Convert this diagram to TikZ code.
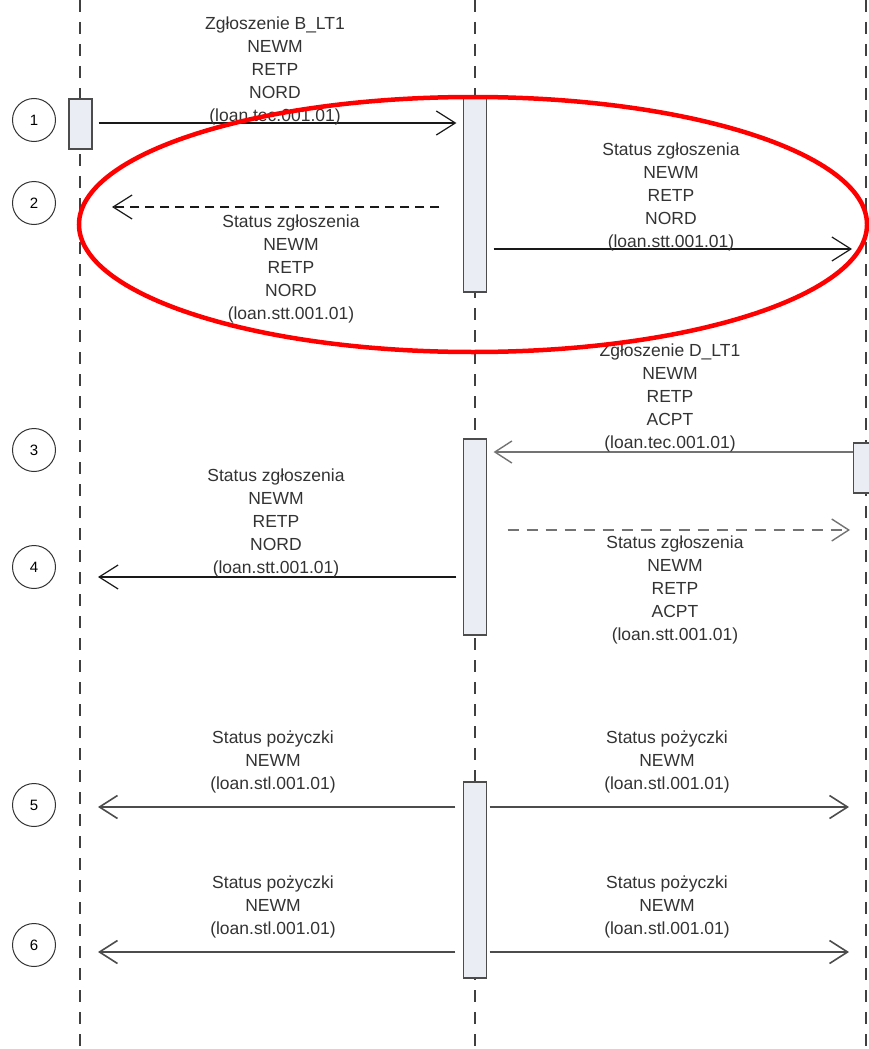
\documentclass[tikz,border=0pt]{standalone}
\usepackage{fontspec}
\setmainfont{Liberation Sans}
\usepackage{tikz}
\usetikzlibrary{arrows.meta}
\usetikzlibrary{positioning}
\tikzset{font={\fontsize{17.5pt}{23pt}\selectfont}}
\definecolor{actfill}{RGB}{234,237,243}
\definecolor{msggray}{RGB}{115,115,115}

\begin{document}
\begin{tikzpicture}[x=1pt,y=-1pt,
  lifeline/.style={draw=black!75,line width=1.3pt,dash pattern=on 12pt off 10pt},
  actbox/.style={draw=black!70,fill=actfill,line width=1.2pt,minimum width=23pt,inner sep=0pt},
  msg/.style={draw=black!90,line width=1.2pt,-{Straight Barb[length=19pt,width=24pt]}},
  dmsg/.style={msg,dash pattern=on 9pt off 6pt},
  gmsg/.style={msg,draw=msggray,line width=2.6pt,-{Straight Barb[length=17pt,width=22pt,line width=1.4pt]}},
  dgmsg/.style={gmsg,dash pattern=on 11pt off 8pt},
  smsg/.style={msg,draw=black!70,line width=2.2pt,-{Straight Barb[length=18pt,width=23pt,line width=1.6pt]}},
  msglabel/.style={align=center,text=black!80,inner sep=0pt},
  num/.style={circle,draw=black!80,line width=1pt,minimum size=43pt,inner sep=0pt,font={\fontsize{15pt}{15pt}\selectfont}}]

\useasboundingbox (0,0) rectangle (869,1049);

%lifelines
\coordinate (Ltop) at (80,0);
\coordinate (Mtop) at (475,0);
\coordinate (Rtop) at (866,0);
\draw[lifeline] (Ltop) -- +(0,1049);
\draw[lifeline] (Mtop) -- +(0,1049);
\draw[lifeline] (Rtop) -- +(0,1049);

%activation boxes
\node[actbox,minimum height=50pt] at (80.5,124) (lbox) {};
\node[actbox,minimum height=194pt] at (475,195) (mid1) {};
\node[actbox,minimum height=196pt] at (475,537) (mid2) {};
\node[actbox,minimum height=196pt] at (475,880) (mid3) {};
\node[actbox,minimum height=50pt] at (865,468) (rbox) {};

%message levels on the lifelines
\coordinate (m1) at (80,123);
\coordinate (m2) at (80,207);
\coordinate (m2r) at (866,249);
\coordinate (m3) at (866,452);
\coordinate (m3r) at (866,530);
\coordinate (m4) at (80,577);
\coordinate (m5) at (80,807);
\coordinate (m5r) at (866,807);
\coordinate (m6) at (80,952);
\coordinate (m6r) at (866,952);

%messages
\draw[msg,shorten <=6pt,shorten >=6.5pt] (m1 -| lbox.east) -- (m1 -| mid1.west);
\draw[dmsg,shorten <=23.5pt,shorten >=32pt] (m2 -| mid1.west) -- (m2);
\draw[msg,shorten <=6.5pt,shorten >=14pt] (m2r -| mid1.east) -- (m2r);
\draw[gmsg,shorten >=6.5pt] (m3 -| rbox.west) -- (m3 -| mid2.east);
\draw[dgmsg,shorten <=20.5pt,shorten >=16pt] (m3r -| mid2.east) -- (m3r);
\draw[msg,shorten <=6.5pt,shorten >=18pt] (m4 -| mid2.west) -- (m4);
\draw[smsg,shorten <=7.5pt,shorten >=18pt] (m5 -| mid3.west) -- (m5);
\draw[smsg,shorten <=2.5pt,shorten >=17pt] (m5r -| mid3.east) -- (m5r);
\draw[smsg,shorten <=7.5pt,shorten >=18pt] (m6 -| mid3.west) -- (m6);
\draw[smsg,shorten <=2.5pt,shorten >=17pt] (m6r -| mid3.east) -- (m6r);

%labels
\node[msglabel] at (275,71) (t1) {Zgłoszenie B\_LT1\\NEWM\\RETP\\NORD\\(loan.tec.001.01)};
\node[msglabel] at (671,197) (t2r) {Status zgłoszenia\\NEWM\\RETP\\NORD\\(loan.stt.001.01)};
\node[msglabel] at (291,269) (t2) {Status zgłoszenia\\NEWM\\RETP\\NORD\\(loan.stt.001.01)};
\node[msglabel] at (670,398) (t3) {Zgłoszenie D\_LT1\\NEWM\\RETP\\ACPT\\(loan.tec.001.01)};
\node[msglabel] at (276,523) (t4) {Status zgłoszenia\\NEWM\\RETP\\NORD\\(loan.stt.001.01)};
\node[msglabel] at (675,590) (t3r) {Status zgłoszenia\\NEWM\\RETP\\ACPT\\(loan.stt.001.01)};
\node[msglabel] at (273,762) (t5) {Status pożyczki\\NEWM\\(loan.stl.001.01)};
\node[msglabel] at (667,762) (t5r) {Status pożyczki\\NEWM\\(loan.stl.001.01)};
\node[msglabel] at (273,907) (t6) {Status pożyczki\\NEWM\\(loan.stl.001.01)};
\node[msglabel] at (667,907) (t6r) {Status pożyczki\\NEWM\\(loan.stl.001.01)};

%step numbers
\node[num] at (34,120) (c1) {1};
\node[num] at (34,203) (c2) {2};
\node[num] at (34,450) (c3) {3};
\node[num] at (34,567) (c4) {4};
\node[num] at (34,805) (c5) {5};
\node[num] at (34,945) (c6) {6};

%highlight
\draw[red,line width=4.5pt] (473,224.5) ellipse [x radius=394, y radius=127.5];

\end{tikzpicture}
\end{document}
